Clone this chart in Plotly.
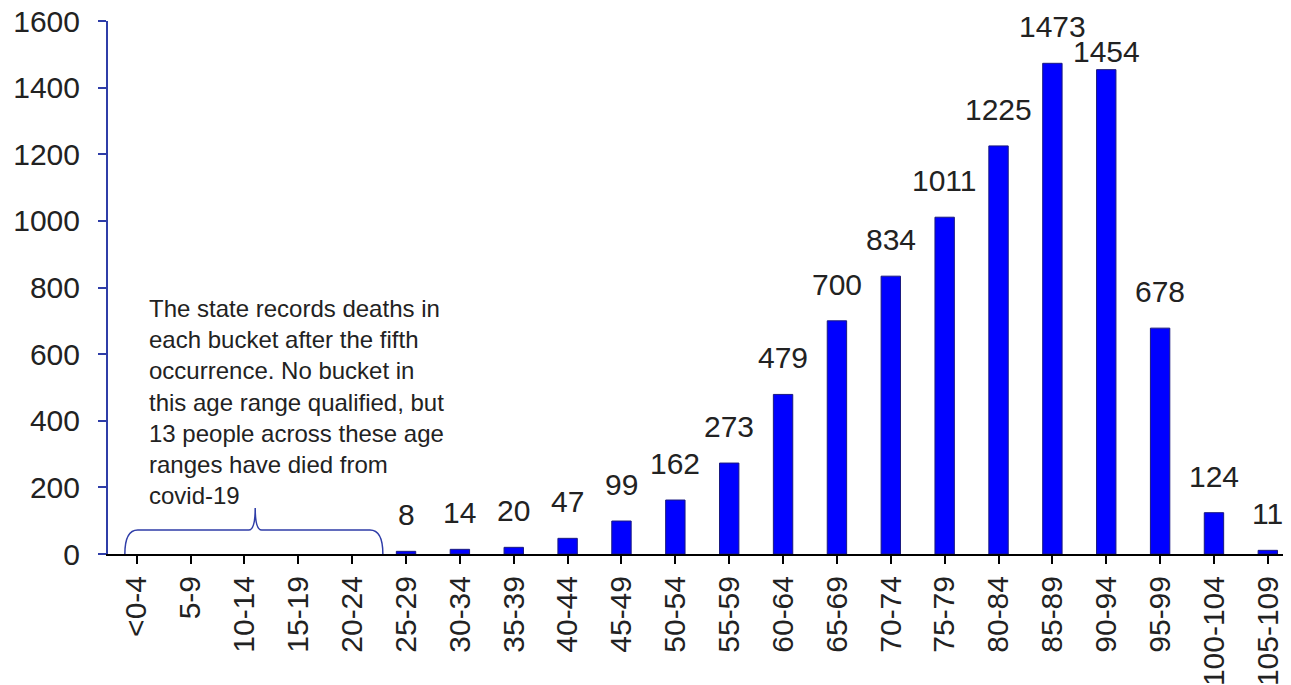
import plotly.graph_objects as go

age_buckets = [
    "<0-4", "5-9", "10-14", "15-19", "20-24", "25-29", "30-34", "35-39",
    "40-44", "45-49", "50-54", "55-59", "60-64", "65-69", "70-74", "75-79",
    "80-84", "85-89", "90-94", "95-99", "100-104", "105-109",
]
deaths = [
    None, None, None, None, None, 8, 14, 20,
    47, 99, 162, 273, 479, 700, 834, 1011,
    1225, 1473, 1454, 678, 124, 11,
]
y_ticks = [0, 200, 400, 600, 800, 1000, 1200, 1400, 1600]

note = (
    "The state records deaths in<br>each bucket after the fifth<br>"
    "occurrence. No bucket in<br>this age range qualified, but<br>"
    "13 people across these age<br>ranges have died from<br>covid-19"
)

FONT = "Liberation Sans, Arial, sans-serif"
TEXT = "#222222"
AXIS_BLUE = "#2f3da8"

xs = list(range(len(age_buckets)))

fig = go.Figure()
fig.add_trace(
    go.Bar(
        x=xs,
        y=deaths,
        width=0.36,
        marker=dict(color="#0000ff", line=dict(color="#1a1a80", width=1)),
        showlegend=False,
    )
)

# value labels sit well above the bars; 90-94 is tucked lower so it clears 85-89
for i, v in zip(xs, deaths):
    if v is None:
        continue
    shift = 0 if age_buckets[i] == "90-94" else 18
    fig.add_annotation(
        x=i, y=v, text=str(v), showarrow=False,
        yanchor="bottom", yshift=shift,
        font=dict(family=FONT, size=30, color=TEXT),
    )

fig.add_annotation(
    x=0.2, y=785, xanchor="left", yanchor="top", align="left",
    text=note, showarrow=False,
    font=dict(family=FONT, size=24, color=TEXT),
)

# curly brace spanning the unreported buckets
x0, x1, xm = -0.22, 4.57, 2.2
yb, yt, yp = 0, 72, 138
r = 0.12
brace = (
    f"M {x0},{yb} Q {x0},{yt} {x0 + r * 2},{yt} "
    f"L {xm - r},{yt} Q {xm},{yt} {xm},{yp} "
    f"Q {xm},{yt} {xm + r},{yt} "
    f"L {x1 - r * 2},{yt} Q {x1},{yt} {x1},{yb}"
)
fig.add_shape(type="path", path=brace, xref="x", yref="y",
              line=dict(color=AXIS_BLUE, width=1.5))

# page body adds an 8px offset, so the figure is sized to fill the rest
fig.update_layout(
    width=1283, height=677,
    margin=dict(l=100, r=0, t=13, b=131),
    plot_bgcolor="white", paper_bgcolor="white",
    font=dict(family=FONT, color=TEXT),
)
fig.update_xaxes(
    range=[-0.533, 21.43], automargin=False,
    tickmode="array", tickvals=xs, ticktext=age_buckets,
    tickangle=-90, tickfont=dict(size=30, color=TEXT),
    ticklabeloverflow="allow",
    showline=True, linecolor="black", linewidth=2,
    ticks="outside", ticklen=8, tickwidth=2, tickcolor="black",
    showgrid=False, zeroline=False,
)
fig.update_yaxes(
    range=[0, 1600], automargin=False,
    tickmode="array", tickvals=y_ticks,
    tickfont=dict(size=30, color=TEXT),
    ticklabeloverflow="allow",
    showline=True, linecolor=AXIS_BLUE, linewidth=2,
    ticks="outside", ticklen=8, tickwidth=2, tickcolor=AXIS_BLUE,
    ticklabelstandoff=12,
    showgrid=False, zeroline=False,
)

fig.write_html("out.html")
